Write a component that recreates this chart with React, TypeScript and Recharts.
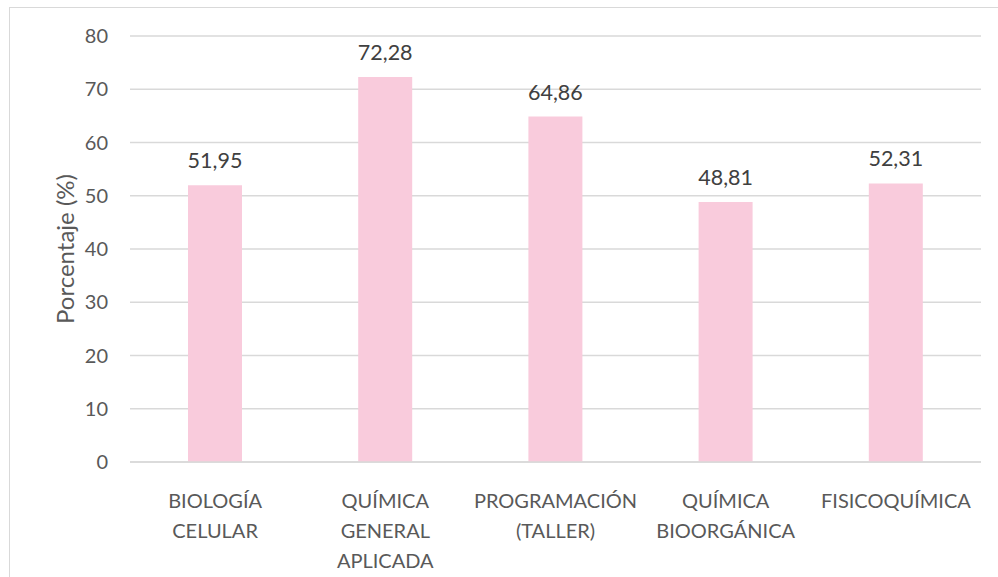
import { BarChart, Bar, XAxis, YAxis, CartesianGrid, LabelList, Label } from 'recharts';

const categories = ['BIOLOGÍA CELULAR', 'QUÍMICA GENERAL APLICADA', 'PROGRAMACIÓN (TALLER)', 'QUÍMICA BIOORGÁNICA', 'FISICOQUÍMICA'];
const percentages = [51.95, 72.28, 64.86, 48.81, 52.31];
const yTicks = [0, 10, 20, 30, 40, 50, 60, 70, 80];

const data = categories.map((name, i) => ({ name, value: percentages[i] }));

const FONT = 'Lato, "Open Sans", sans-serif';

// wrap category names word by word like the excel chart does
function CategoryTick({ x, y, payload }: any) {
  const words = String(payload.value).split(' ');
  return (
    <text x={x} y={y} textAnchor="middle" fill="#595959" fontSize={20} fontFamily={FONT}>
      {words.map((w, i) => (
        <tspan key={i} x={x} dy={i === 0 ? 38 : 30}>
          {w}
        </tspan>
      ))}
    </text>
  );
}

export default function App() {
  return (
    <div
      style={{
        position: 'absolute',
        left: 9,
        top: 7,
        width: 989,
        height: 570,
        borderTop: '1px solid #D9D9D9',
        borderLeft: '1px solid #D9D9D9',
        background: '#fff',
        overflow: 'hidden',
      }}
    >
      <BarChart
        width={988}
        height={569}
        data={data}
        margin={{ top: 28, right: 17, left: 0, bottom: 0 }}
      >
        <CartesianGrid vertical={false} stroke="#D9D9D9" strokeWidth={1.5} />
        <XAxis
          dataKey="name"
          height={115}
          interval={0}
          axisLine={{ stroke: '#D9D9D9', strokeWidth: 1.5 }}
          tickLine={false}
          tick={<CategoryTick />}
        />
        <YAxis
          width={120}
          domain={[0, 80]}
          ticks={yTicks}
          axisLine={false}
          tickLine={false}
          tickSize={20}
          tickMargin={2}
          tick={{ fill: '#595959', fontSize: 20, fontFamily: FONT }}
        >
          <Label
            content={({ viewBox }: any) => {
              const cx = viewBox.x + 54;
              const cy = viewBox.y + viewBox.height / 2;
              return (
                <text
                  x={cx}
                  y={cy}
                  transform={`rotate(-90 ${cx} ${cy})`}
                  textAnchor="middle"
                  dominantBaseline="central"
                  fill="#595959"
                  fontSize={24}
                  fontFamily={FONT}
                >
                  Porcentaje (%)
                </text>
              );
            }}
          />
        </YAxis>
        <Bar dataKey="value" fill="#F9CBDC" barSize={54} isAnimationActive={false}>
          <LabelList
            dataKey="value"
            position="top"
            offset={17}
            fill="#404040"
            fontSize={21.5}
            fontFamily={FONT}
            formatter={(v: any) => Number(v).toFixed(2).replace('.', ',')}
          />
        </Bar>
      </BarChart>
    </div>
  );
}
